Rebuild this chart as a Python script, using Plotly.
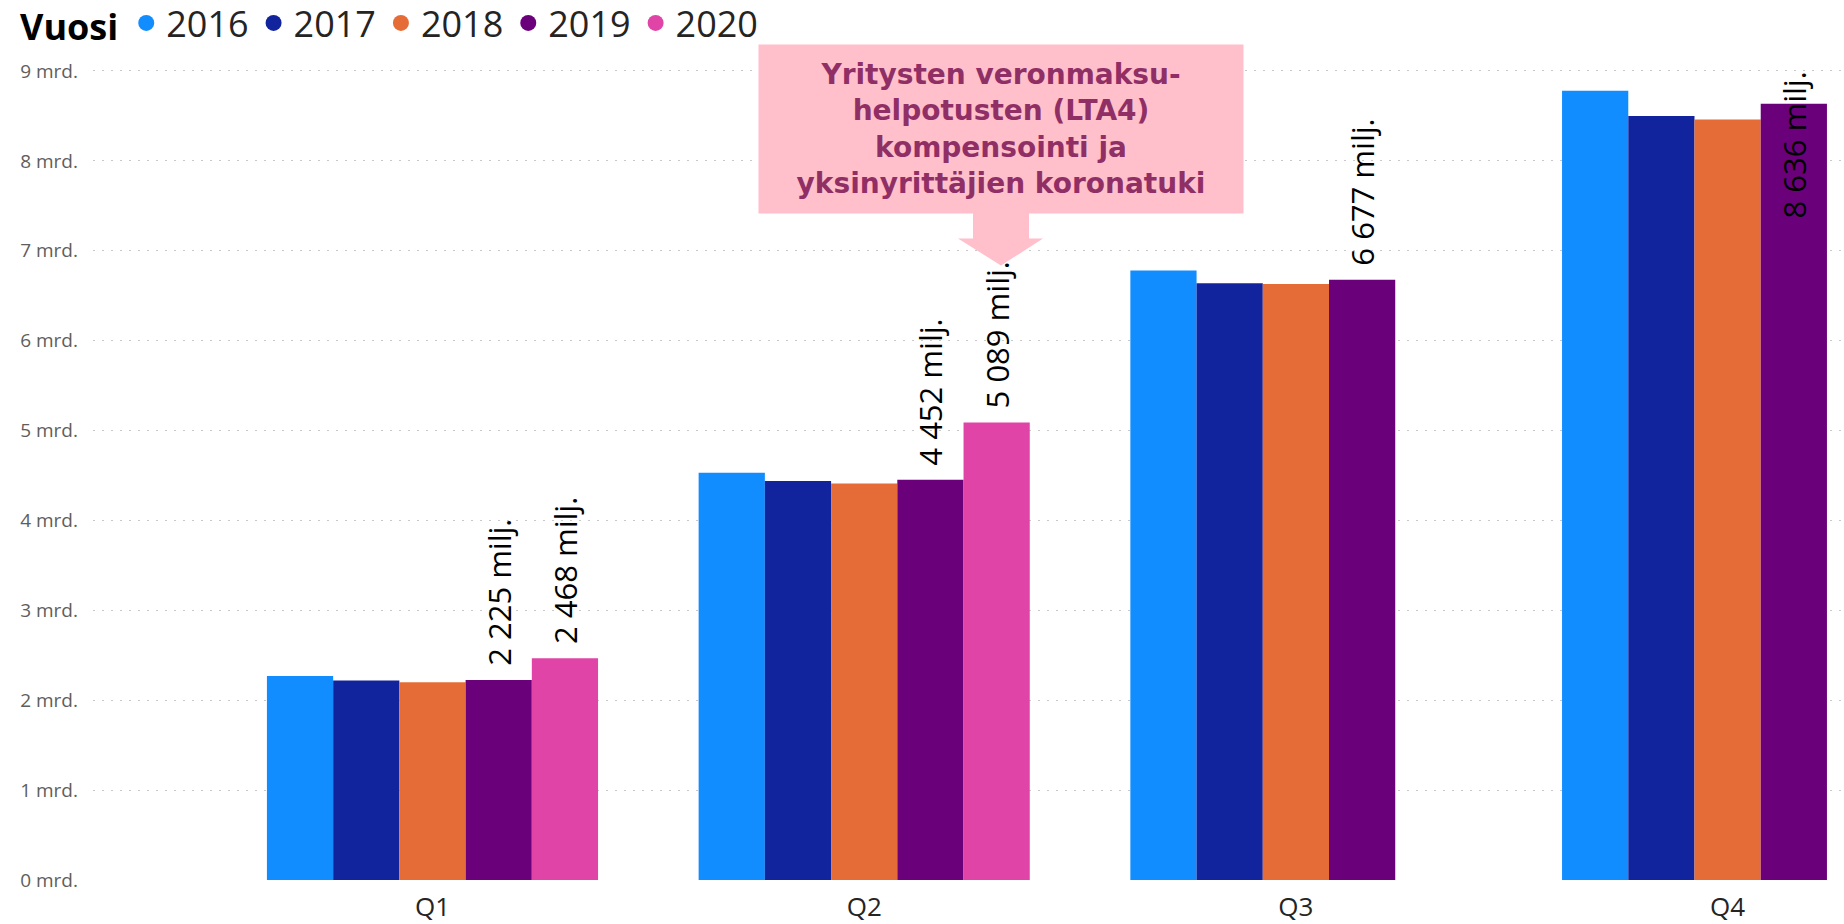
import plotly.graph_objects as go

# ---------------- data ----------------
quarters = ["Q1", "Q2", "Q3", "Q4"]
years = ["2016", "2017", "2018", "2019", "2020"]
values_2016 = [2.27, 4.53, 6.78, 8.78]
values_2017 = [2.22, 4.44, 6.64, 8.50]
values_2018 = [2.20, 4.41, 6.63, 8.46]
values_2019 = [2.225, 4.452, 6.677, 8.636]
values_2020 = [2.468, 5.089, None, None]
series = [values_2016, values_2017, values_2018, values_2019, values_2020]
colors = ["#118DFF", "#12239E", "#E66C37", "#6B007B", "#E044A7"]
# label placement per year (Q4 2019 label is pushed into the bar, drawn separately)
labelled_years = {"2019": ["outside", "outside", "outside", "none"],
                  "2020": ["outside", "outside", "outside", "outside"]}
y_ticks = list(range(0, 10))
y_ticktext = [f"{v} mrd." for v in y_ticks]
callout_lines = ["Yritysten veronmaksu-", "helpotusten (LTA4)",
                 "kompensointi ja", "yksinyrittäjien koronatuki"]

# ---------------- geometry helpers (layout only) ----------------
W, H = 1844, 924
ML, MR, MT, MB = 93, 0, 68, 42
PW, PH = W - ML - MR, H - MT - MB
X_RANGE = [-0.7864, 3.2696]
BARGAP = 0.233
PX_PER_UNIT = (H - MB - 71) / 9      # 9 mrd. gridline sits 71 px from the top


def px_x(px):
    return (px - ML) / PW


def px_y(py):
    return (H - MB - py) / PH


def fmt(v):
    return f"{round(v * 1000):,}".replace(",", " ") + " milj."


FONT = "Open Sans, Segoe UI, sans-serif"
LABEL_SIZE = 31

fig = go.Figure()
for yr, vals, col in zip(years, series, colors):
    kw = {}
    if yr in labelled_years:
        kw = dict(
            text=["\u00a0\u200a" + fmt(v) if v is not None else "" for v in vals],
            textposition=labelled_years[yr],
            textangle=-90,
            textfont=dict(family=FONT, size=LABEL_SIZE, color="#000000"),
            outsidetextfont=dict(family=FONT, size=LABEL_SIZE, color="#000000"),
            constraintext="none",
        )
    fig.add_trace(go.Bar(x=quarters, y=vals, name=yr, marker=dict(color=col, line=dict(width=0)),
                         showlegend=False, hoverinfo="x+y+name", cliponaxis=False, **kw))

# Q4 2019 label: Power BI pushes it down into the bar so it stays inside the plot
cat_px = PW / (X_RANGE[1] - X_RANGE[0])
bar_px = cat_px * (1 - BARGAP) / len(years)
slot = years.index("2019")
fig.add_annotation(
    x=quarters[3], y=values_2019[3], xref="x", yref="y",
    xshift=(slot + 0.5 - len(years) / 2) * bar_px, yshift=-41,
    text=fmt(values_2019[3]), textangle=-90, showarrow=False,
    xanchor="center", yanchor="middle",
    font=dict(family=FONT, size=LABEL_SIZE, color="#000000"),
)

# legend entries with round symbols
for yr, col in zip(years, colors):
    fig.add_trace(go.Scatter(x=[None], y=[None], mode="markers", name=yr,
                             marker=dict(symbol="circle", size=20, color=col)))

# callout box
fig.add_annotation(
    xref="paper", yref="paper", x=px_x(1001), y=px_y(129),
    xanchor="center", yanchor="middle",
    width=484, height=168, bgcolor="#FFC0CB", borderpad=0, showarrow=False,
    align="center",
    text="<br>".join(f"<b>{t}</b>" for t in callout_lines),
    font=dict(family="DejaVu Sans", size=28, color="#902F66"),
)
# callout arrow
pts = [(973, 212), (1029, 212), (1029, 239), (1043, 239), (1001, 266), (958, 239), (973, 239)]
path = "M " + " L ".join(f"{px_x(a):.5f},{px_y(b):.5f}" for a, b in pts) + " Z"
fig.add_shape(type="path", xref="paper", yref="paper", path=path,
              fillcolor="#FFC0CB", line=dict(width=0), layer="above")

fig.update_layout(
    width=W, height=H,
    margin=dict(l=ML, r=MR, t=MT, b=MB, pad=0),
    paper_bgcolor="white", plot_bgcolor="white",
    barmode="group", bargap=BARGAP, bargroupgap=0,
    font=dict(family=FONT, color="#252423"),
    legend=dict(
        orientation="h", xref="container", yref="container",
        x=18 / W, xanchor="left", y=1 - 23 / H, yanchor="middle",
        title=dict(text="<b>Vuosi</b>", font=dict(family=FONT, size=36, color="#000000")),
        font=dict(family=FONT, size=36, color="#252423"),
        itemsizing="trace", tracegroupgap=0, bgcolor="rgba(0,0,0,0)",
    ),
    xaxis=dict(
        type="category", range=X_RANGE, showgrid=False, zeroline=False,
        showline=False, ticks="", tickfont=dict(family=FONT, size=26, color="#252423"),
        ticklabelstandoff=9,
    ),
    yaxis=dict(
        range=[0, PH / PX_PER_UNIT], tickvals=y_ticks, ticktext=y_ticktext,
        showgrid=True, gridcolor="#C8C8C8", gridwidth=1, griddash="2px,7px",
        zeroline=False, showline=False, ticks="",
        tickfont=dict(family=FONT, size=19, color="#605E5C"),
        ticklabelstandoff=14,
    ),
)

fig.write_html("out.html", config={"displayModeBar": False},
               post_script="document.body.style.margin='0';")
